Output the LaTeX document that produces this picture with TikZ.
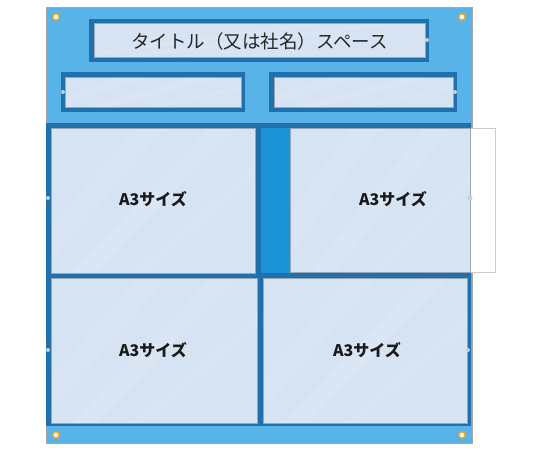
\documentclass[tikz,border=0pt]{standalone}
\usepackage{fontspec}
\newfontfamily\jp{Noto Sans CJK JP}
\definecolor{board}{HTML}{58B4E8}
\definecolor{frame}{HTML}{1F70AC}
\definecolor{stripe}{HTML}{1C93D6}
\definecolor{panel}{HTML}{D5E3F3}
\definecolor{edge}{HTML}{9AA8B6}
\definecolor{ring}{HTML}{F5A21E}
\tikzset{
  boardfill/.style={fill=board},
  framefill/.style={fill=frame},
  grommet/.style={draw=ring,fill=white,line width=1.5pt},
  notch/.style={fill=panel!70!edge},
  ttl/.style={font=\jp\fontsize{18.5}{19}\selectfont,text=black!85},
  a3/.style={font=\jp\bfseries\fontsize{16}{16}\selectfont,text=black!90},
}
\newcommand\sheetpanel[4]{%
  \fill[panel] (#1,#2) rectangle (#3,#4);
  \begin{scope}
    \clip (#1,#2) rectangle (#3,#4);
    \fill[white,opacity=0.14] (#1+20,#4) -- (#1+45,#4) -- (#3-20,#2) -- (#3-45,#2) -- cycle;
    \fill[white,opacity=0.10] (#1-40,#4) -- (#1-10,#4) -- (#3-90,#2) -- (#3-120,#2) -- cycle;
    \fill[white,opacity=0.10] (#1+80,#4) -- (#1+95,#4) -- (#3+60,#2) -- (#3+40,#2) -- cycle;
  \end{scope}
  \draw[edge,line width=0.5pt] (#1,#2) rectangle (#3,#4);
}
\begin{document}
\begin{tikzpicture}[x=1pt,y=-1pt]
\useasboundingbox (0,0) rectangle (540,450);
% board
\fill[boardfill] (46,7) rectangle (472,443);
\draw[black!35,line width=0.5pt] (46,7) rectangle (472,443);
% title box
\fill[framefill] (89,19) rectangle (429,62);
\sheetpanel{94}{23}{425}{57}
\fill[notch] (427,40) circle (2);
\node[ttl] (title) at (259.5,41) {タイトル（又は社名）スペース};
% small boxes
\fill[framefill] (61,72) rectangle (245,112);
\sheetpanel{65}{77}{241}{107}
\fill[notch] (63,92) circle (2);
\fill[framefill] (269,72) rectangle (457,112);
\sheetpanel{274}{77}{453}{107}
\fill[notch] (455,92) circle (2);
% grid frame
\fill[framefill] (46,123) rectangle (471,426);
\fill[stripe] (261,128) rectangle (290,273);
% pocket extending outside board
\fill[white] (290,128) rectangle (495,272);
\draw[black!20,line width=0.5pt] (290,128) rectangle (495,272);
% panels
\sheetpanel{51}{128}{255}{273}
\sheetpanel{290}{128}{470}{272}
\sheetpanel{51}{278}{257}{423}
\sheetpanel{263}{278}{467}{423}
\fill[notch] (48,198) circle (2);
\fill[notch] (470,198) circle (2.5);
\fill[notch] (48,350) circle (2);
\fill[notch] (468,350) circle (2);
\node[a3] (a3tl) at (153,199) {A3サイズ};
\node[a3] (a3tr) at (393,199) {A3サイズ};
\node[a3] (a3bl) at (153,350) {A3サイズ};
\node[a3] (a3br) at (367,350) {A3サイズ};
% grommets
\draw[grommet] (56,17) circle (3.2);
\draw[grommet] (462,17) circle (3.2);
\draw[grommet] (56,435) circle (3.2);
\draw[grommet] (462,435) circle (3.2);
\end{tikzpicture}
\end{document}
